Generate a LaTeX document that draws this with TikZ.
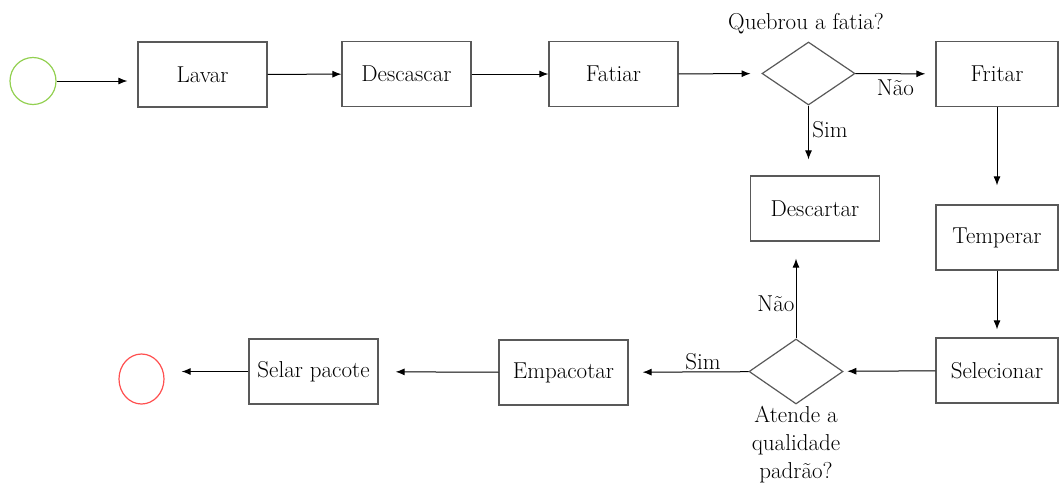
\documentclass[tikz,border=0pt]{standalone}
\usepackage{fontspec}
\usetikzlibrary{shapes.geometric,arrows.meta}
\definecolor{boxgray}{RGB}{89,89,89}
\definecolor{startgreen}{RGB}{146,208,80}
\definecolor{endred}{RGB}{255,80,80}
\tikzset{
  etapa/.style={draw=boxgray, line width=1.2pt, minimum width=129pt, minimum height=65pt, inner sep=0pt},
  decisao/.style={diamond, draw=boxgray, line width=1.2pt, minimum width=93pt, minimum height=63pt, inner sep=0pt},
  seta/.style={-{Latex[length=9pt,width=7pt]}, line width=1pt},
}
\begin{document}
\begin{tikzpicture}[x=1pt,y=1pt,yscale=-1,font=\fontsize{23}{28}\selectfont]
\useasboundingbox (0,0) rectangle (1059,483);

%Shape: Start
\node[ellipse, draw=startgreen, line width=1.2pt, minimum width=46pt, minimum height=47pt] (inicio) at (33,81) {};

%Shape: Steps, top row
\node[etapa] (lavar) at (202.5,74.5) {Lavar};
\node[etapa] (descascar) at (406.5,74) {Descascar};
\node[etapa] (fatiar) at (613.5,74) {Fatiar};
\node[decisao] (quebrou) at (808.5,73.5) {};
\node[etapa, minimum width=122pt] (fritar) at (997,74) {Fritar};

%Shape: Steps, right column and middle
\node[etapa] (descartar) at (815,208.5) {Descartar};
\node[etapa, minimum width=122pt] (temperar) at (997,237.5) {Temperar};
\node[etapa, minimum width=122pt] (selecionar) at (997,370.5) {Selecionar};

%Shape: Steps, bottom row
\node[decisao, minimum width=94pt, minimum height=65pt] (atende) at (796,371.5) {};
\node[etapa] (empacotar) at (563.5,372.5) {Empacotar};
\node[etapa] (selar) at (313.5,371.5) {Selar pacote};

%Shape: End
\node[ellipse, draw=endred, line width=1.2pt, minimum width=45pt, minimum height=50pt] (fim) at (141.5,379) {};

% Text Node
\node (quebroutxt) at (806,24) {Quebrou a fatia?};
% Text Node
\node[align=center] (atendetxt) at (796,445) {Atende a\\qualidade\\padrão?};

%Straight Lines
\draw[seta, shorten >=10pt] (inicio) -- (inicio -| lavar.west);
\draw[seta] (lavar) -- (descascar);
\draw[seta] (descascar) -- (fatiar);
\draw[seta, shorten >=11pt] (fatiar) -- (quebrou);
\draw[seta, shorten >=10pt] (quebrou) -- (fritar) node[midway, below, yshift=-2pt] {Não};
\draw[seta, shorten >=16pt] (quebrou.south) -- (quebrou.south |- descartar.north) node[pos=0.35, right] {Sim};
\draw[seta, shorten >=19pt] (fritar) -- (temperar);
\draw[seta, shorten >=8pt] (temperar) -- (selecionar);
\draw[seta, shorten >=4pt] (selecionar) -- (atende);
\draw[seta, shorten >=17pt] (atende.north) -- (atende.north |- descartar.south) node[pos=0.36, left, inner sep=1pt] {Não};
\draw[seta, shorten >=14pt] (atende) -- (empacotar) node[pos=0.38, above, inner sep=2pt] {Sim};
\draw[seta, shorten >=17pt] (empacotar) -- (selar);
\draw[seta, shorten >=17pt] (selar) -- (selar -| fim.east);

\end{tikzpicture}
\end{document}
